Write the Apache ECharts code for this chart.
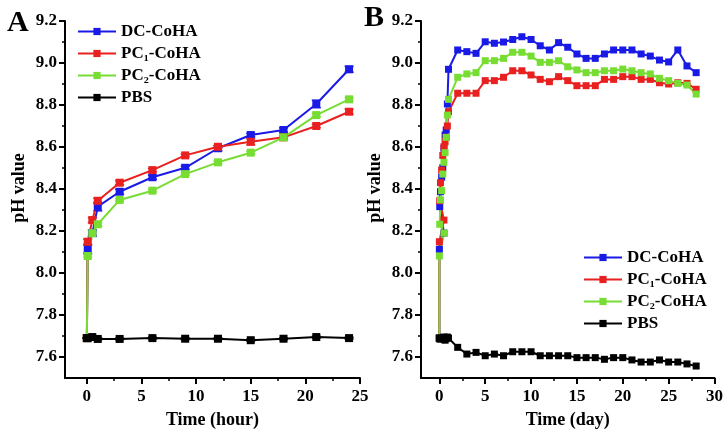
<!DOCTYPE html>
<html>
<head>
<meta charset="utf-8">
<script src="https://cdn.jsdelivr.net/npm/echarts@6/dist/echarts.min.js"></script>
<style>html,body{margin:0;padding:0;background:#fff}#c{width:726px;height:435px}</style>
</head>
<body>
<div id="c"></div>
<script>
// ---- Panel A (hours) ----
const hoursA = [0, 0.08, 0.5, 1, 3, 6, 9, 12, 15, 18, 21, 24];
const dcA  = [7.69, 8.113, 8.19, 8.316, 8.387, 8.456, 8.501, 8.594, 8.657, 8.681, 8.805, 8.970];
const pc1A = [7.69, 8.149, 8.252, 8.344, 8.430, 8.490, 8.560, 8.601, 8.625, 8.646, 8.700, 8.768];
const pc2A = [7.69, 8.081, 8.190, 8.232, 8.348, 8.392, 8.471, 8.527, 8.573, 8.646, 8.752, 8.827];
const pbsA = [7.69, 7.69, 7.695, 7.686, 7.686, 7.690, 7.687, 7.687, 7.680, 7.687, 7.695, 7.690];
// error bar half-heights (panel A)
const dcErrA  = [0, 0.02, 0.015, 0.02, 0.012, 0.01, 0.008, 0.012, 0.008, 0.01, 0.018, 0.014];
const pc1ErrA = [0, 0.012, 0.012, 0.012, 0.01, 0.008, 0.006, 0.006, 0.015, 0.006, 0.008, 0.012];
const pc2ErrA = [0, 0.006, 0.006, 0.008, 0.006, 0.006, 0.006, 0.006, 0.006, 0.006, 0.008, 0.008];
const pbsErrA = [0, 0.004, 0.004, 0.004, 0.004, 0.004, 0.004, 0.004, 0.004, 0.004, 0.004, 0.004];

// ---- Panel B (days) ----
const daysB = [0, 0.003, 0.5, 0.042, 0.125, 0.25, 0.375, 0.5, 0.625, 0.75, 0.875, 1,
  2, 3, 4, 5, 6, 7, 8, 9, 10, 11, 12, 13, 14, 15, 16, 17, 18, 19, 20, 21, 22, 23, 24, 25, 26, 27, 28];
const dcLateB  = [9.062, 9.054, 9.046, 9.101, 9.094, 9.100, 9.112, 9.125, 9.112, 9.082, 9.062, 9.097, 9.075, 9.043, 9.022, 9.022, 9.043, 9.062, 9.062, 9.062, 9.043, 9.033, 9.014, 9.005, 9.062, 8.986, 8.954];
const pc1LateB = [8.856, 8.856, 8.856, 8.916, 8.916, 8.932, 8.963, 8.963, 8.943, 8.922, 8.911, 8.935, 8.916, 8.892, 8.892, 8.892, 8.922, 8.922, 8.935, 8.935, 8.922, 8.922, 8.906, 8.900, 8.906, 8.903, 8.875];
const pc2LateB = [8.932, 8.948, 8.954, 9.011, 9.011, 9.022, 9.051, 9.051, 9.033, 9.003, 9.003, 9.011, 8.982, 8.967, 8.954, 8.954, 8.963, 8.963, 8.971, 8.963, 8.954, 8.948, 8.927, 8.916, 8.903, 8.895, 8.852];
const pbsLateB = [7.646, 7.614, 7.622, 7.606, 7.614, 7.606, 7.625, 7.625, 7.625, 7.606, 7.606, 7.606, 7.606, 7.597, 7.597, 7.597, 7.589, 7.597, 7.597, 7.586, 7.576, 7.576, 7.586, 7.576, 7.576, 7.567, 7.557];

const names = ['DC-CoHA', 'PC\u2081-CoHA', 'PC\u2082-CoHA', 'PBS'];
const colors = ['#1a1ae6', '#e82020', '#77dd33', '#000000'];
const yMajor = [7.6, 7.8, 8.0, 8.2, 8.4, 8.6, 8.8, 9.0, 9.2];
const yMinor = [7.7, 7.9, 8.1, 8.3, 8.5, 8.7, 8.9, 9.1];
const xMajorA = [0, 5, 10, 15, 20, 25];
const xMinorA = [2.5, 7.5, 12.5, 17.5, 22.5];
const xMajorB = [0, 5, 10, 15, 20, 25, 30];
const xMinorB = [2.5, 7.5, 12.5, 17.5, 22.5, 27.5];

const FONT = "'Liberation Serif','Times New Roman',serif";
const pair = (xs, ys) => ys.map((v, i) => [xs[i], v]);
const seriesA = [dcA, pc1A, pc2A, pbsA];
const errA = [dcErrA, pc1ErrA, pc2ErrA, pbsErrA];
const seriesB = [dcA.concat(dcLateB), pc1A.concat(pc1LateB), pc2A.concat(pc2LateB), pbsA.concat(pbsLateB)];

function xAxes(grid, min, max, major, minor, name) {
  return [{
    gridIndex: grid, type: 'value', min: min, max: max, position: 'bottom',
    axisLine: { onZero: false, lineStyle: { color: '#000', width: 2 } },
    axisTick: { customValues: major, length: 6, lineStyle: { color: '#000', width: 2 } },
    axisLabel: { customValues: major, color: '#000', fontFamily: FONT, fontWeight: 'bold', fontSize: 17, margin: 10 },
    splitLine: { show: false },
    name: name, nameLocation: 'middle', nameGap: 33,
    nameTextStyle: { color: '#000', fontFamily: FONT, fontWeight: 'bold', fontSize: 18 }
  }, {
    gridIndex: grid, type: 'value', min: min, max: max, position: 'bottom', offset: 0,
    axisLine: { show: false, onZero: false },
    axisTick: { customValues: minor, length: 3, lineStyle: { color: '#000', width: 1.5 } },
    axisLabel: { show: false }, splitLine: { show: false }
  }];
}
function yAxes(grid) {
  return [{
    gridIndex: grid, type: 'value', min: 7.5, max: 9.2, position: 'left',
    axisLine: { show: true, onZero: false, lineStyle: { color: '#000', width: 2 } },
    axisTick: { show: true, customValues: yMajor, length: 6, lineStyle: { color: '#000', width: 2 } },
    axisLabel: { customValues: yMajor, formatter: v => Number(v).toFixed(1), color: '#000', fontFamily: FONT, fontWeight: 'bold', fontSize: 17, margin: 8 },
    splitLine: { show: false }
  }, {
    gridIndex: grid, type: 'value', min: 7.5, max: 9.2, position: 'left', offset: 0,
    axisLine: { show: false, onZero: false },
    axisTick: { show: true, customValues: yMinor, length: 3, lineStyle: { color: '#000', width: 1.5 } },
    axisLabel: { show: false }, splitLine: { show: false }
  }];
}

const series = [];
// error bars (panel A)
errA.forEach((e, i) => series.push({
  type: 'custom', xAxisIndex: 0, yAxisIndex: 0, z: 1, silent: true, animation: false,
  data: hoursA.map((h, k) => [h, seriesA[i][k] - e[k], seriesA[i][k] + e[k]]),
  renderItem: function (params, api) {
    const lo = api.coord([api.value(0), api.value(1)]);
    const hi = api.coord([api.value(0), api.value(2)]);
    const w = 4.5;
    const st = { stroke: colors[i], lineWidth: 1.5 };
    return { type: 'group', children: [
      { type: 'line', shape: { x1: lo[0], y1: lo[1], x2: hi[0], y2: hi[1] }, style: st },
      { type: 'line', shape: { x1: lo[0] - w, y1: lo[1], x2: lo[0] + w, y2: lo[1] }, style: st },
      { type: 'line', shape: { x1: hi[0] - w, y1: hi[1], x2: hi[0] + w, y2: hi[1] }, style: st }
    ]};
  }
}));
seriesA.forEach((d, i) => series.push({
  name: names[i], type: 'line', xAxisIndex: 0, yAxisIndex: 0, z: 2,
  data: pair(hoursA, d), symbol: 'rect', symbolSize: 8, showSymbol: true,
  itemStyle: { color: colors[i] }, lineStyle: { color: colors[i], width: 2 }, animation: false
}));
seriesB.forEach((d, i) => series.push({
  name: names[i], type: 'line', xAxisIndex: 2, yAxisIndex: 2, z: 2,
  data: pair(daysB, d), symbol: 'rect', symbolSize: 7, showSymbol: true,
  itemStyle: { color: colors[i] }, lineStyle: { color: colors[i], width: 2 }, animation: false
}));

function legend(left, top) {
  return {
    data: names, orient: 'vertical', left: left, top: top, padding: 0,
    itemWidth: 38, itemHeight: 9, itemGap: 1, selectedMode: false,
    textStyle: { color: '#000', fontFamily: FONT, fontWeight: 'bold', fontSize: 17, lineHeight: 21 }
  };
}

const nameFont = "bold 18px 'Liberation Serif', serif";
const chart = echarts.init(document.getElementById('c'), null, { renderer: 'canvas' });
chart.setOption({
  backgroundColor: '#fff',
  animation: false,
  grid: [
    { left: 65, top: 21, width: 295, height: 357 },
    { left: 421, top: 21, width: 295, height: 357 }
  ],
  xAxis: xAxes(0, -2, 25, xMajorA, xMinorA, 'Time (hour)').concat(xAxes(1, -2, 30, xMajorB, xMinorB, 'Time (day)')),
  yAxis: yAxes(0).concat(yAxes(1)),
  legend: [legend(77, 21), legend(583, 247)],
  graphic: [
    { type: 'text', left: 7, top: 8, style: { text: 'A', font: "bold 30px 'Liberation Serif', serif", fill: '#000' } },
    { type: 'text', left: 364, top: 3, style: { text: 'B', font: "bold 30px 'Liberation Serif', serif", fill: '#000' } },
    { type: 'text', x: 19, y: 188, rotation: Math.PI / 2, style: { text: 'pH value', font: nameFont, fill: '#000', textAlign: 'center', textVerticalAlign: 'middle' } },
    { type: 'text', x: 375, y: 188, rotation: Math.PI / 2, style: { text: 'pH value', font: nameFont, fill: '#000', textAlign: 'center', textVerticalAlign: 'middle' } }
  ],
  series: series
});
</script>
</body>
</html>
